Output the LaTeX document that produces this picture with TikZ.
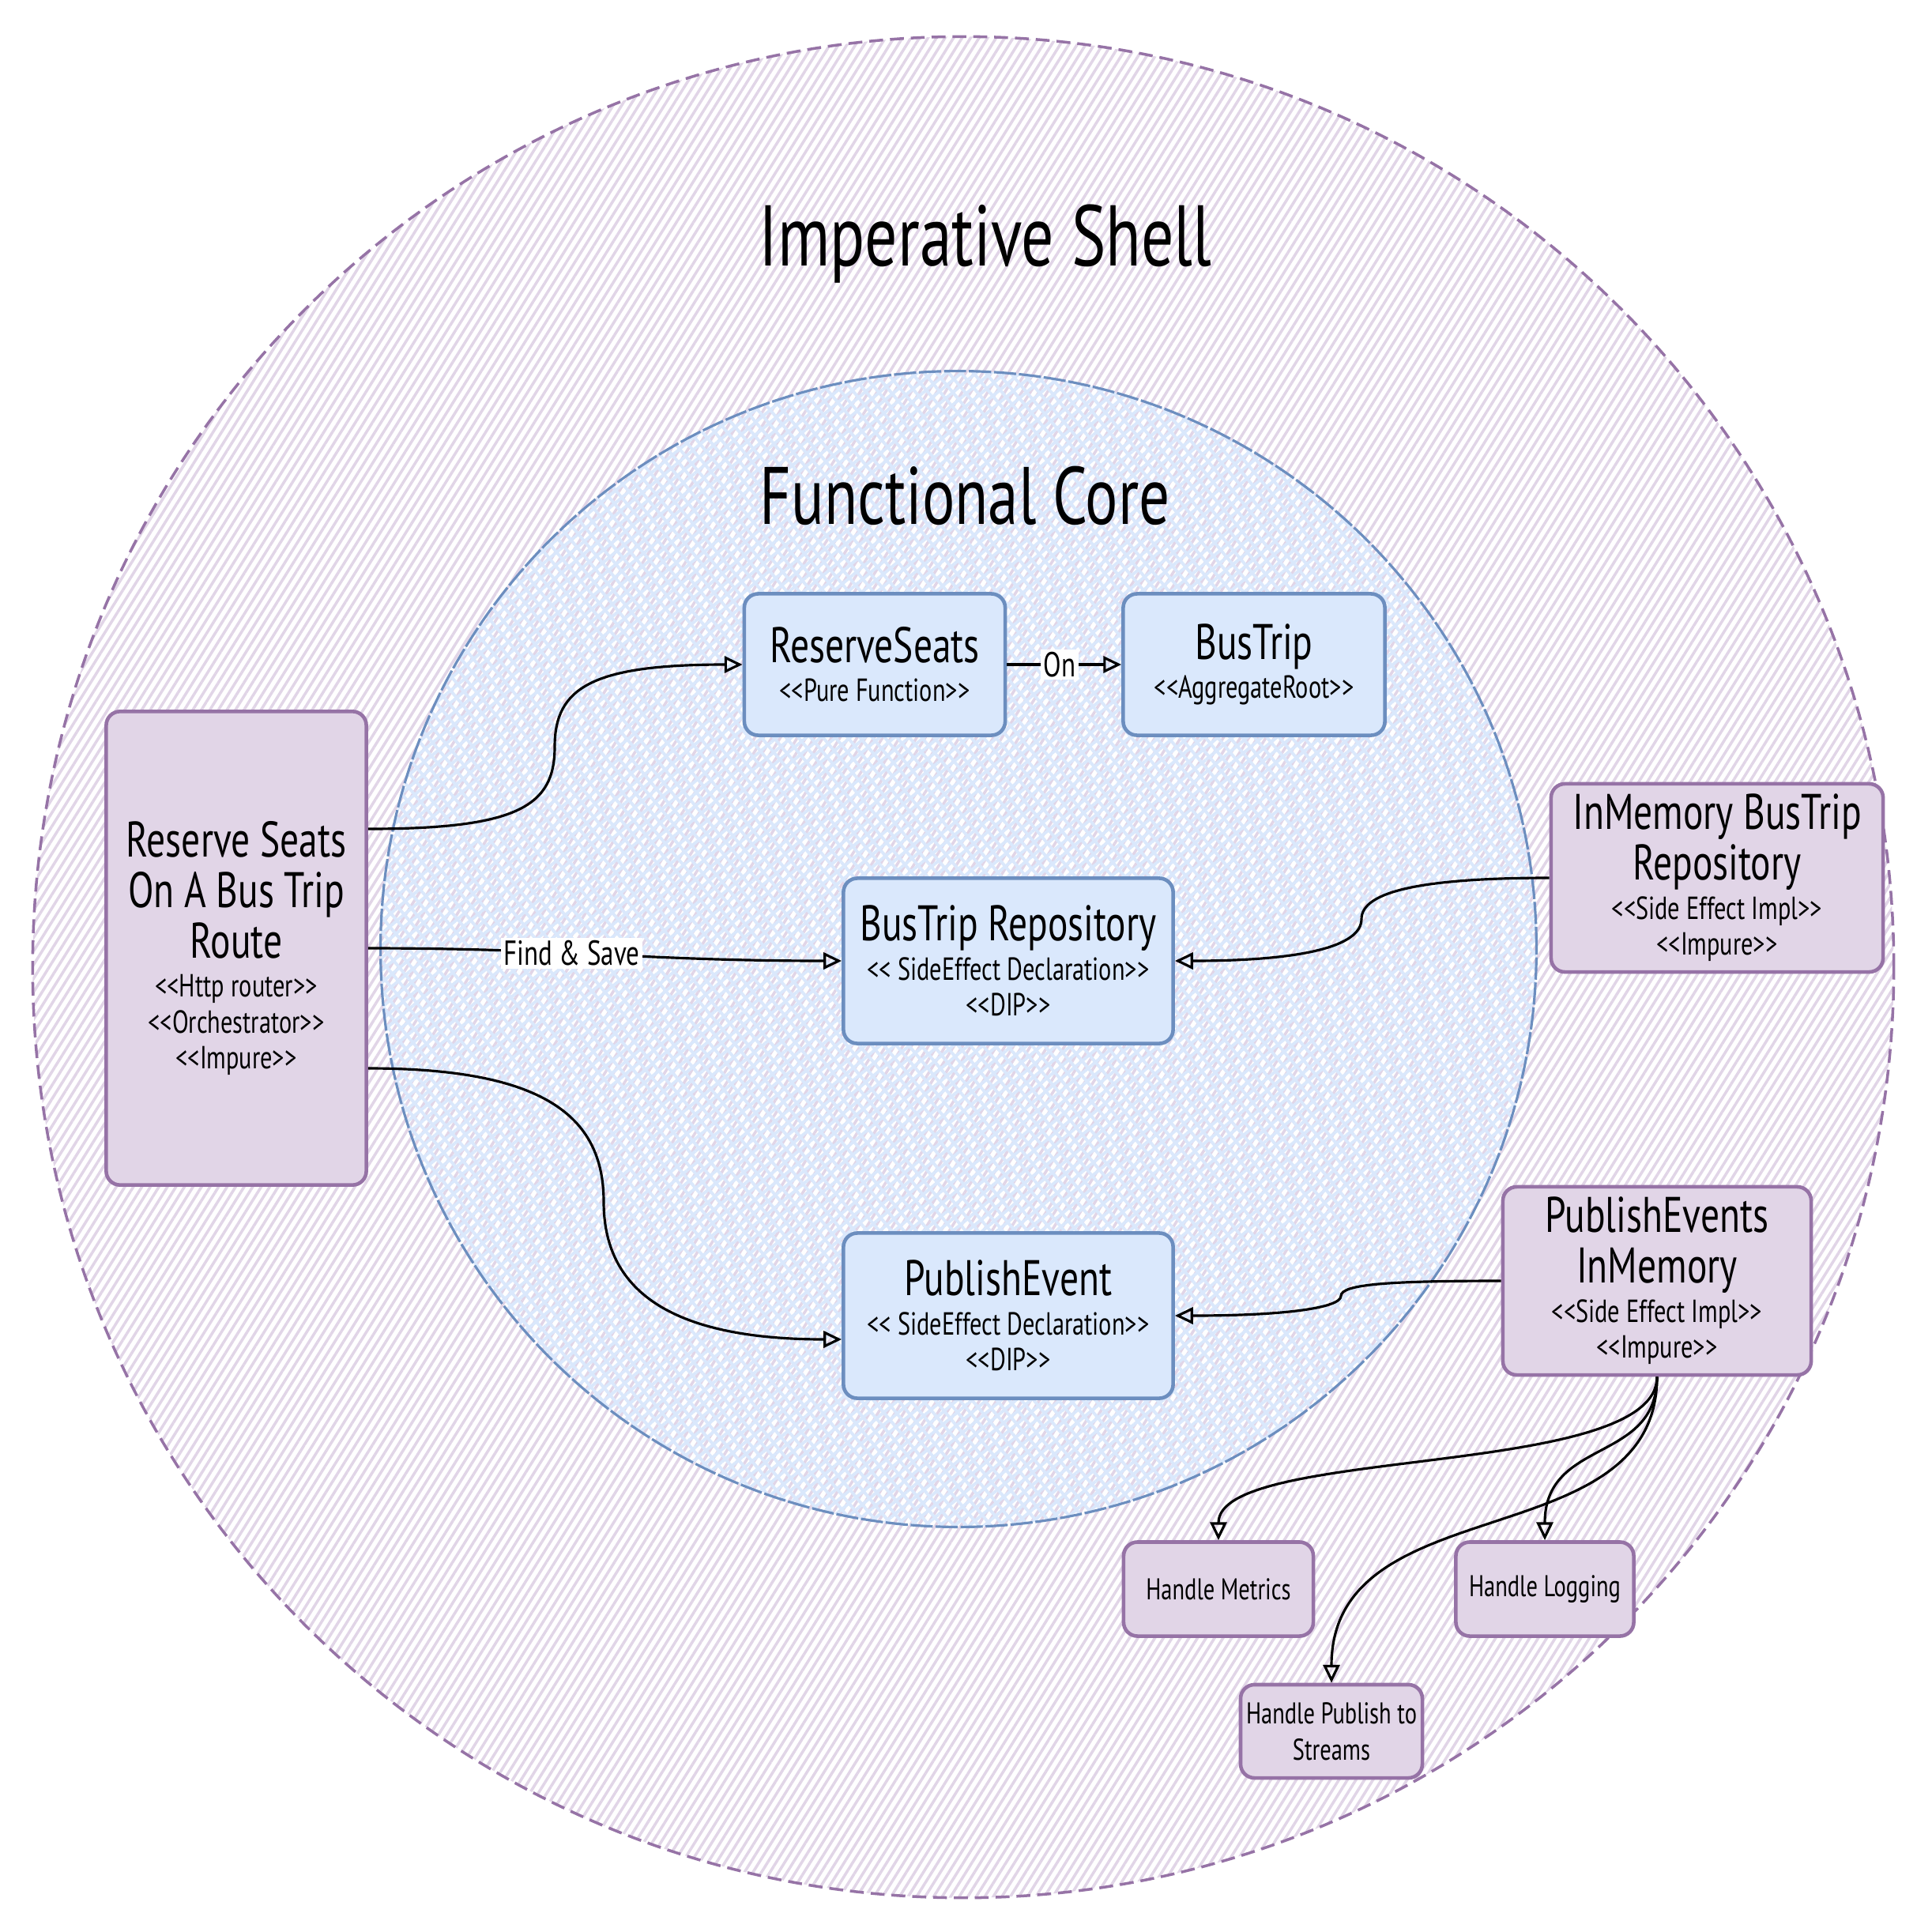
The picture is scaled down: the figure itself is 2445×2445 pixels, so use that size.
\documentclass[tikz,border=0pt]{standalone}
\usepackage{fontspec}
\newfontfamily\handfont{PT Sans}[FakeStretch=0.75]
\usetikzlibrary{arrows.meta}
\usetikzlibrary{calc}
\usetikzlibrary{patterns.meta}
\usepackage{xcolor}
\definecolor{coreFill}{HTML}{DAE8FC}
\definecolor{coreLine}{HTML}{6C8EBF}
\definecolor{shellFill}{HTML}{E1D5E7}
\definecolor{shellLine}{HTML}{9673A6}
\newcommand{\tightlines}{\lineskiplimit-30pt\relax}

\begin{document}
\begin{tikzpicture}[x=0.01cm, y=-0.01cm]
        % ================= styles =================
        \tikzset{
            % rings (hatched like the sketch)
            shell_ring/.style={draw=shellLine, line width=1pt, dash pattern=on 5pt off 2.5pt},
            shell_hatch/.style={pattern={Lines[angle=58, distance=2.6pt, line width=1pt]}, pattern color=shellFill},
            core_ring/.style={draw=coreLine, line width=0.9pt, dash pattern=on 8pt off 1pt},
            core_hatch_a/.style={pattern={Lines[angle=40, distance=3.4pt, line width=1.1pt]}, pattern color=coreFill},
            core_hatch_b/.style={pattern={Lines[angle=-50, distance=3.4pt, line width=1.1pt]}, pattern color=coreFill},
            % boxes
            core_box/.style={draw=coreLine, line width=1.3pt, fill=coreFill, rounded corners=5pt, align=center, inner sep=2pt,
                font=\handfont\fontsize{11.5}{13}\selectfont\tightlines},
            shell_box/.style={draw=shellLine, line width=1.3pt, fill=shellFill, rounded corners=5pt, align=center, inner sep=2pt,
                font=\handfont\fontsize{11.5}{13}\selectfont\tightlines},
            ring_title/.style={font=\handfont\fontsize{31}{33}\selectfont},
            % connectors
            flow_arrow/.style={draw=black, line width=0.9pt, -{Triangle[open, length=6.5pt, width=6pt]}},
            edge_label/.style={fill=white, inner sep=1pt, font=\handfont\fontsize{12.5}{15}\selectfont}
        }
        \newcommand{\bigtxt}{\fontsize{18}{13}\selectfont}
        \newcommand{\stereo}{\fontsize{11.5}{13}\selectfont}
        \newcommand{\smalltxt}{\fontsize{10.8}{13}\selectfont}

        \useasboundingbox (0,0) rectangle (2445,2445);
        \fill[white] (0,0) rectangle (2445,2445);

        % ================= rings =================
        \coordinate (shell_c) at (1219,1224);
        \coordinate (core_c) at (1213,1201);
        \fill[shell_hatch] (shell_c) circle[radius=11.77cm];
        \draw[shell_ring] (shell_c) circle[radius=11.77cm];
        \fill[core_hatch_a] (core_c) circle[radius=7.31cm];
        \fill[core_hatch_b] (core_c) circle[radius=7.31cm];
        \draw[core_ring] (core_c) circle[radius=7.31cm];

        \node[ring_title] (shellTitle) at (1247,309) {Imperative Shell};
        \node[ring_title, font=\handfont\fontsize{29.3}{31}\selectfont] (coreTitle) at (1221,627) {Functional Core};

        % ================= functional core =================
        \node[core_box, minimum width=3.3cm, minimum height=1.79cm] (reserveSeats) at (1107,841)
            {\bigtxt ReserveSeats\\[1pt]\stereo <<Pure Function>>};
        \node[core_box, minimum width=3.31cm, minimum height=1.79cm] (busTrip) at (1587,841)
            {\bigtxt BusTrip\\[1pt]\stereo <<AggregateRoot>>};
        \node[core_box, minimum width=4.17cm, minimum height=2.09cm] (busTripRepo) at (1276,1216)
            {\bigtxt BusTrip Repository\\[1pt]\stereo << SideEffect Declaration>>\\\stereo <<DIP>>};
        \node[core_box, minimum width=4.17cm, minimum height=2.09cm] (publishEvent) at (1276,1665)
            {\bigtxt PublishEvent\\[1pt]\stereo << SideEffect Declaration>>\\\stereo <<DIP>>};

        % ================= imperative shell =================
        \node[shell_box, minimum width=3.29cm, minimum height=5.99cm] (route) at (299,1200)
            {\bigtxt Reserve Seats\\[5.2pt]\bigtxt On A Bus Trip\\[5.2pt]\bigtxt Route\\[1pt]\stereo <<Http router>>\\\stereo <<Orchestrator>>\\\stereo <<Impure>>};
        \node[shell_box, minimum width=4.2cm, minimum height=2.38cm] (inMemRepo) at (2173,1111)
            {\bigtxt InMemory BusTrip\\[5.2pt]\bigtxt Repository\\[1pt]\stereo <<Side Effect Impl>>\\\stereo <<Impure>>};
        \node[shell_box, minimum width=3.9cm, minimum height=2.38cm] (publishInMem) at (2097,1621)
            {\bigtxt PublishEvents\\[5.2pt]\bigtxt InMemory\\[1pt]\stereo <<Side Effect Impl>>\\\stereo <<Impure>>};
        \node[shell_box, minimum width=2.4cm, minimum height=1.19cm] (handleMetrics) at (1542,2011)
            {\smalltxt Handle Metrics};
        \node[shell_box, minimum width=2.25cm, minimum height=1.19cm] (handleLogging) at (1955,2011)
            {\smalltxt Handle Logging};
        \node[shell_box, minimum width=2.26cm, minimum height=1.18cm] (handleStreams) at (1685,2191)
            {\smalltxt Handle Publish to\\\smalltxt Streams};

        % ================= connectors =================
        % bends of the curved connectors
        \coordinate (bend_seats) at (702,945);
        \coordinate (bend_publish) at (764,1521);
        \coordinate (bend_repo) at (1723,1163);
        \coordinate (bend_events) at (1697,1640);

        \draw[flow_arrow] ($(route.east)+(0,-151)$) .. controls +(190,0) and +(0,75) .. (bend_seats)
            .. controls +(0,-75) and +(-190,0) .. (reserveSeats.west);
        \draw[flow_arrow] (reserveSeats.east) -- node[edge_label, pos=0.46] {On} (busTrip.west);
        \draw[flow_arrow] (route.east) .. controls +(250,0) and +(-250,0) .. node[edge_label, pos=0.42] {Find \& Save} (busTripRepo.west);
        \draw[flow_arrow] ($(route.east)+(0,152)$) .. controls +(220,0) and +(0,-110) .. (bend_publish)
            .. controls +(0,110) and +(-220,0) .. ($(publishEvent.west)+(0,30)$);

        \draw[flow_arrow] (inMemRepo.west) .. controls +(-160,0) and +(0,-35) .. (bend_repo)
            .. controls +(0,35) and +(160,0) .. (busTripRepo.east);
        \draw[flow_arrow] (publishInMem.west) .. controls +(-140,0) and +(0,-15) .. (bend_events)
            .. controls +(0,15) and +(140,0) .. (publishEvent.east);

        \draw[flow_arrow] (publishInMem.south) .. controls +(0,130) and +(0,-120) .. (handleMetrics.north);
        \draw[flow_arrow] (publishInMem.south) .. controls +(0,110) and +(0,-130) .. (handleLogging.north);
        \draw[flow_arrow] (publishInMem.south) .. controls +(0,230) and +(0,-250) .. (handleStreams.north);

    \end{tikzpicture}
\end{document}
